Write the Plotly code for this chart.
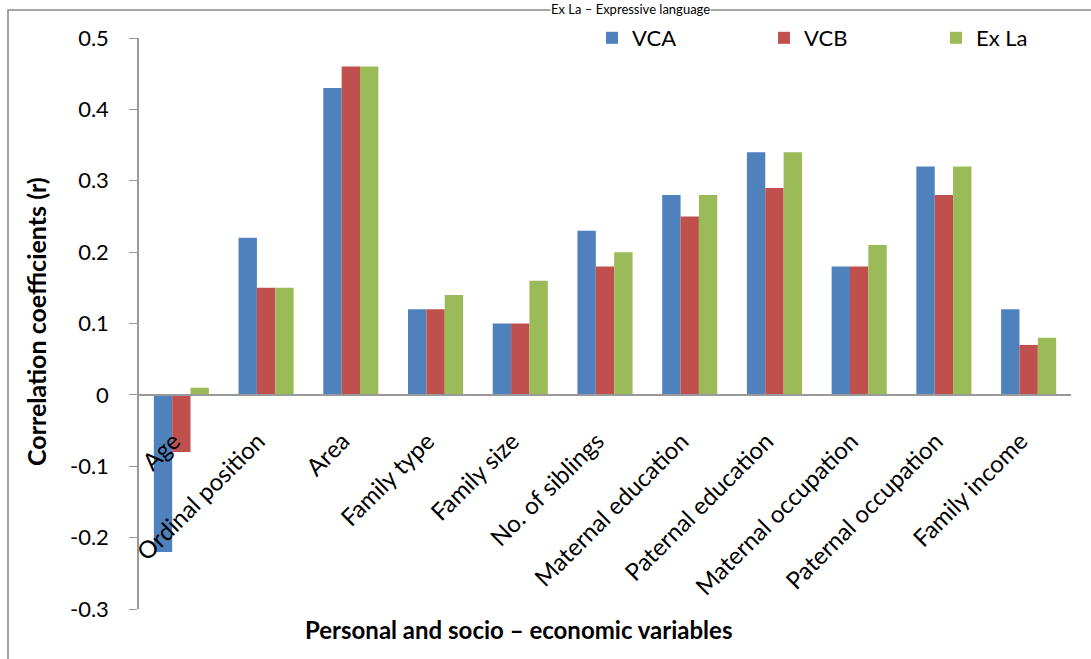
import plotly.graph_objects as go

categories = ["Age", "Ordinal position", "Area", "Family type", "Family size",
              "No. of siblings", "Maternal education", "Paternal education",
              "Maternal occupation", "Paternal occupation", "Family income"]
vca = [-0.22, 0.22, 0.43, 0.12, 0.10, 0.23, 0.28, 0.34, 0.18, 0.32, 0.12]
vcb = [-0.08, 0.15, 0.46, 0.12, 0.10, 0.18, 0.25, 0.29, 0.18, 0.28, 0.07]
exla = [0.01, 0.15, 0.46, 0.14, 0.16, 0.20, 0.28, 0.34, 0.21, 0.32, 0.08]
y_ticks = [-0.3, -0.2, -0.1, 0, 0.1, 0.2, 0.3, 0.4, 0.5]
y_tick_text = ["-0.3", "-0.2", "-0.1", "0", "0.1", "0.2", "0.3", "0.4", "0.5"]

W, H = 1091, 659
ML, MR, MT, MB = 139, 20, 38, 50
pw, ph = W - ML - MR, H - MT - MB

FONT = "Lato, Open Sans, sans-serif"

fig = go.Figure()
for name, vals, col in [("VCA", vca, "#4F81BD"), ("VCB", vcb, "#C0504D"), ("Ex La", exla, "#9BBB59")]:
    fig.add_trace(go.Bar(x=categories, y=vals, name=name, marker=dict(color=col, line=dict(width=0))))

ymin, ymax = -0.3, 0.5
zero_frac = (0 - ymin) / (ymax - ymin)

fig.update_layout(
    width=W, height=H,
    margin=dict(l=ML, r=MR, t=MT, b=MB, autoexpand=False),
    paper_bgcolor="white", plot_bgcolor="white",
    barmode="group", bargap=0.35, bargroupgap=0,
    font=dict(family=FONT, size=22, color="black"),
    showlegend=True,
    legend=dict(orientation="h", x=(592 - ML) / pw, xanchor="left", y=1.0, yanchor="middle",
                entrywidth=127, entrywidthmode="pixels", font=dict(size=22),
                bgcolor="rgba(0,0,0,0)", itemsizing="constant"),
    xaxis=dict(anchor="free", position=zero_frac, showline=True, linecolor="#999999", linewidth=1.5,
               tickangle=-45, ticks="", showgrid=False, zeroline=False,
               ticklabelstandoff=22, ticklabelshift=-8,
               tickfont=dict(size=24, family=FONT)),
    yaxis=dict(range=[ymin, ymax], tickvals=y_ticks, ticktext=y_tick_text, showline=True,
               linecolor="#999999", linewidth=1.5, ticks="outside", ticklen=8, tickcolor="#999999",
               ticklabelstandoff=16,
               showgrid=False, zeroline=False, tickfont=dict(size=22, family=FONT)),
    annotations=[
        dict(text="<b>Correlation coefficients (r)</b>", xref="paper", yref="paper",
             x=(36 - ML) / pw, y=(H - MB - 322) / ph, textangle=-90, showarrow=False,
             font=dict(size=25, family=FONT), xanchor="center", yanchor="middle"),
        dict(text="<b>Personal and socio \u2013 economic variables</b>", xref="paper", yref="paper",
             x=(518 - ML) / pw, y=(H - MB - 630) / ph, showarrow=False,
             font=dict(size=24, family=FONT), xanchor="center", yanchor="middle"),
        dict(text="Ex La \u2013 Expressive language", xref="paper", yref="paper",
             x=(630 - ML) / pw, y=(H - MB - 0) / ph, showarrow=False,
             font=dict(size=13, family=FONT), xanchor="center", yanchor="top",
             bgcolor="white", borderpad=0),
    ],
    shapes=[
        dict(type="rect", xref="paper", yref="paper",
             x0=(8 - ML) / pw, x1=(W + 10 - ML) / pw,
             y0=(H - MB - (H + 10)) / ph, y1=(H - MB - 10) / ph,
             line=dict(color="#888888", width=1.5), fillcolor="rgba(0,0,0,0)", layer="below"),
    ],
)

fig.write_html("out.html")
